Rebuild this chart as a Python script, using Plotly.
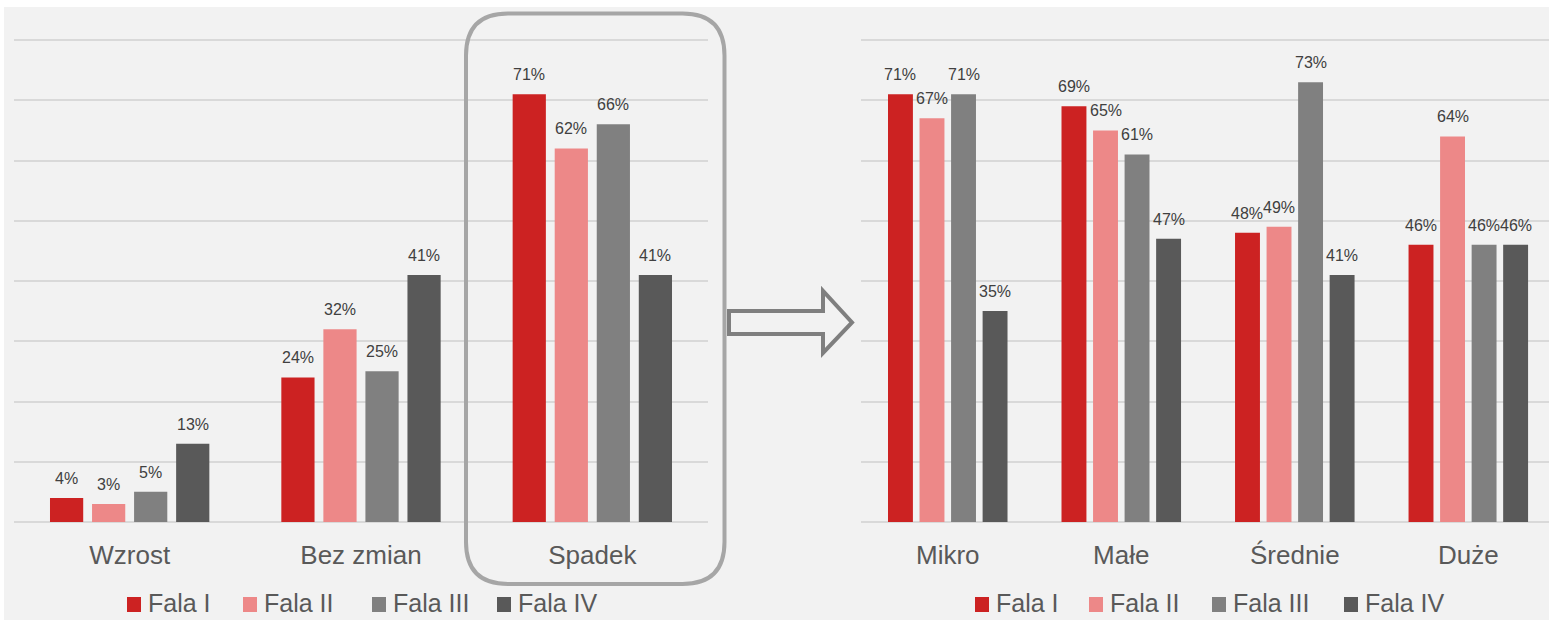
import plotly.graph_objects as go

# ---------------- data ----------------
series_names = ["Fala I", "Fala II", "Fala III", "Fala IV"]
left_categories = ["Wzrost", "Bez zmian", "Spadek"]
left_values = {
    "Fala I": [4, 24, 71],
    "Fala II": [3, 32, 62],
    "Fala III": [5, 25, 66],
    "Fala IV": [13, 41, 41],
}
right_categories = ["Mikro", "Małe", "Średnie", "Duże"]
right_values = {
    "Fala I": [71, 69, 48, 46],
    "Fala II": [67, 65, 49, 64],
    "Fala III": [71, 61, 73, 46],
    "Fala IV": [35, 47, 41, 46],
}

# ---------------- style ----------------
W, H = 1549, 620
colors = ["#cc2222", "#ed8888", "#808080", "#595959"]
FONT = "Arial, Liberation Sans, sans-serif"
BARGAP = 0.273
BARGROUPGAP = 0.21
grid_col = "#d9d9d9"
Y_BASE, Y_80 = 522, 40                      # pixel rows of 0 % and 80 %
Y_MAX = 80.6
unit_px = (Y_BASE - Y_80) / 80
y_top_px = Y_BASE - Y_MAX * unit_px


def px(x):
    return x / W


def py(y):
    return 1 - y / H


fig = go.Figure()

for j, name in enumerate(series_names):
    fig.add_trace(go.Bar(
        x=left_categories, y=left_values[name], name=name,
        marker=dict(color=colors[j], line=dict(width=0)),
        xaxis="x", yaxis="y", showlegend=False,
    ))
    fig.add_trace(go.Bar(
        x=right_categories, y=right_values[name], name=name,
        marker=dict(color=colors[j], line=dict(width=0)),
        xaxis="x2", yaxis="y2", showlegend=False,
    ))

annotations = []
slot = (1 - BARGAP) / len(series_names)
for cats, vals, xr, yr in [(left_categories, left_values, "x", "y"),
                           (right_categories, right_values, "x2", "y2")]:
    for j, name in enumerate(series_names):
        for i, v in enumerate(vals[name]):
            annotations.append(dict(
                x=i + (j - 1.5) * slot, y=v, xref=xr, yref=yr,
                text=f"{v}%", showarrow=False, yanchor="bottom", yshift=9,
                font=dict(family=FONT, size=16, color="#404040"),
            ))

# manual legends
legend_y = 603
legend_sets = [[127, 243, 372, 497], [975, 1089, 1212, 1344]]
shapes = []
# background panel
shapes.append(dict(type="rect", xref="paper", yref="paper",
                   x0=px(4), x1=px(W), y0=py(H), y1=py(7),
                   fillcolor="#f2f2f2", line=dict(width=0), layer="below"))
for starts in legend_sets:
    for j, name in enumerate(series_names):
        x0 = starts[j]
        shapes.append(dict(type="rect", xref="paper", yref="paper",
                           x0=px(x0), x1=px(x0 + 14),
                           y0=py(legend_y + 9), y1=py(legend_y - 6),
                           fillcolor=colors[j], line=dict(width=0)))
        annotations.append(dict(
            x=px(x0 + 19), y=py(legend_y), xref="paper", yref="paper",
            text=name, showarrow=False, xanchor="left", yanchor="middle",
            font=dict(family=FONT, size=25, color="#595959"),
        ))

# rounded highlight box around "Spadek"
bx0, bx1, by0, by1, r = 466, 724.5, 13.5, 584, 42


def P(x, y):
    return f"{px(x):.6f},{py(y):.6f}"


box_path = (
    f"M {P(bx0 + r, by0)} L {P(bx1 - r, by0)} Q {P(bx1, by0)} {P(bx1, by0 + r)} "
    f"L {P(bx1, by1 - r)} Q {P(bx1, by1)} {P(bx1 - r, by1)} "
    f"L {P(bx0 + r, by1)} Q {P(bx0, by1)} {P(bx0, by1 - r)} "
    f"L {P(bx0, by0 + r)} Q {P(bx0, by0)} {P(bx0 + r, by0)} Z"
)
shapes.append(dict(type="path", xref="paper", yref="paper", path=box_path,
                   line=dict(color="#a6a6a6", width=4), fillcolor="rgba(0,0,0,0)"))

# arrow
arrow_pts = [(729, 311), (823, 311), (823, 291), (852, 322.5), (823, 353),
             (823, 334), (729, 334)]
arrow_path = "M " + " L ".join(P(x, y) for x, y in arrow_pts) + " Z"
shapes.append(dict(type="path", xref="paper", yref="paper", path=arrow_path,
                   line=dict(color="#7f7f7f", width=4), fillcolor="#f2f2f2"))

yaxis_common = dict(range=[0, Y_MAX], tick0=0, dtick=10, showgrid=True,
                    gridcolor=grid_col, gridwidth=2, zeroline=True,
                    zerolinecolor=grid_col, zerolinewidth=2,
                    showticklabels=False, showline=False,
                    domain=[py(Y_BASE), py(y_top_px)], fixedrange=True)
xaxis_common = dict(showgrid=False, showline=False, ticks="",
                    tickfont=dict(family=FONT, size=26, color="#595959"),
                    ticklabelstandoff=15, fixedrange=True)

fig.update_layout(
    width=W, height=H,
    margin=dict(l=0, r=0, t=0, b=0),
    paper_bgcolor="white", plot_bgcolor="rgba(0,0,0,0)",
    barmode="group", bargap=BARGAP, bargroupgap=BARGROUPGAP,
    xaxis=dict(domain=[px(14), px(708)], range=[-0.5, 2.5], anchor="y",
               **xaxis_common),
    yaxis=dict(anchor="x", **yaxis_common),
    xaxis2=dict(domain=[px(861), 1], range=[-0.5, 3.465], anchor="y2",
                **xaxis_common),
    yaxis2=dict(anchor="x2", **yaxis_common),
    annotations=annotations,
    shapes=shapes,
    showlegend=False,
)

fig.write_html(
    "out.html",
    config={"displayModeBar": False},
    post_script="document.body.style.margin='0';document.body.style.overflow='hidden';",
)
